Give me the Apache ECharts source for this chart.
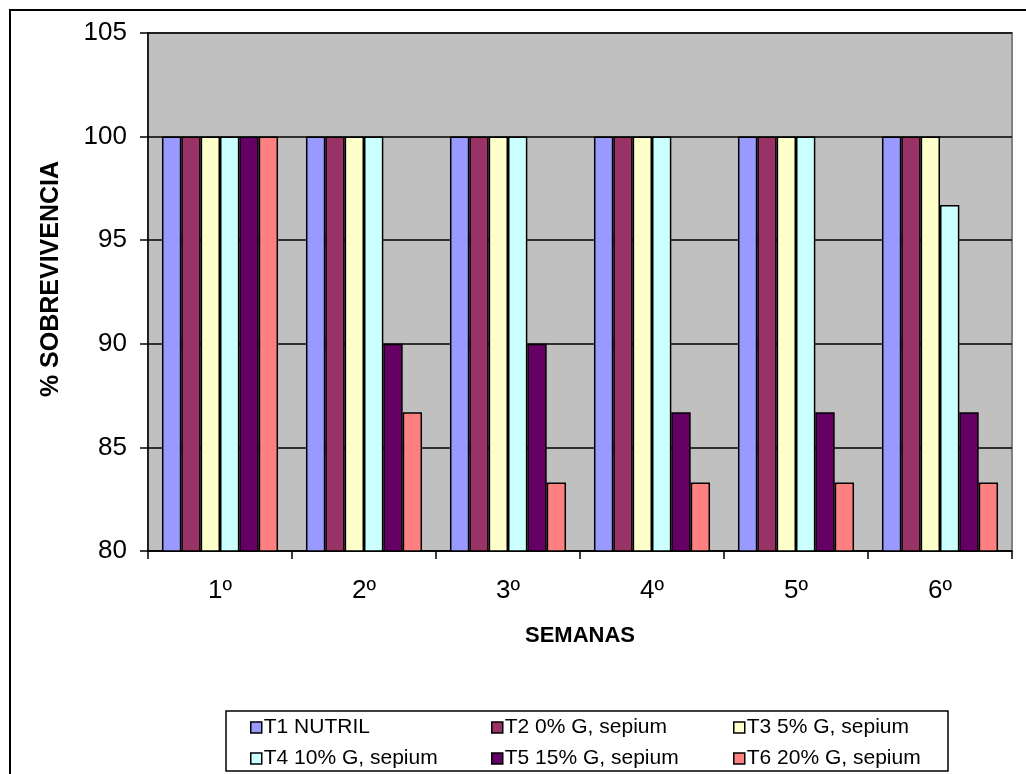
<!DOCTYPE html>
<html>
<head>
<meta charset="utf-8">
<script src="https://cdn.jsdelivr.net/npm/echarts@6/dist/echarts.min.js"></script>
<style>
  html, body { margin: 0; padding: 0; background: #ffffff; }
  #chart { width: 1026px; height: 774px; }
</style>
</head>
<body>
<div id="chart"></div>
<script>
// Weeks on the category axis
const semanas = ['1º', '2º', '3º', '4º', '5º', '6º'];

// Treatment names (legend)
const tratamientos = [
  'T1 NUTRIL',
  'T2 0% G, sepium',
  'T3 5% G, sepium',
  'T4 10% G, sepium',
  'T5 15% G, sepium',
  'T6 20% G, sepium'
];

// Survival (%) per treatment, one value per week
const t1 = [100, 100, 100, 100, 100, 100];
const t2 = [100, 100, 100, 100, 100, 100];
const t3 = [100, 100, 100, 100, 100, 100];
const t4 = [100, 100, 100, 100, 100, 96.7];
const t5 = [100, 90, 90, 86.7, 86.7, 86.7];
const t6 = [100, 86.7, 83.3, 83.3, 83.3, 83.3];

// Y axis range
const yMin = 80;
const yMax = 105;
const yStep = 5;

const colores = ['#9999FF', '#993366', '#FFFFCC', '#CCFFFF', '#660066', '#FF8080'];
const valores = [t1, t2, t3, t4, t5, t6];

const FONT = 'Arial, "Liberation Sans", sans-serif';

const chart = echarts.init(document.getElementById('chart'));

const series = tratamientos.map((name, i) => ({
  name: name,
  type: 'bar',
  data: valores[i],
  barGap: '0%',
  barCategoryGap: '19.4%',
  itemStyle: { color: colores[i], borderColor: '#000000', borderWidth: 1.5 },
  emphasis: { disabled: true }
}));

// Legend: three columns of two entries each
const legendBase = {
  orient: 'vertical',
  top: 717,
  padding: 0,
  itemWidth: 11,
  itemHeight: 11,
  itemGap: 10,
  icon: 'rect',
  selectedMode: false,
  textStyle: { fontFamily: FONT, fontSize: 21, color: '#000000', lineHeight: 20, padding: [0, 0, 0, -3] },
  itemStyle: { borderColor: '#000000', borderWidth: 1.5 }
};

chart.setOption({
  animation: false,
  backgroundColor: '#ffffff',
  color: colores,
  grid: {
    left: 148, top: 33, width: 864, height: 518,
    show: true,
    backgroundColor: '#C0C0C0',
    borderColor: '#808080',
    borderWidth: 2
  },
  legend: [
    Object.assign({}, legendBase, { left: 250, data: [tratamientos[0], tratamientos[3]] }),
    Object.assign({}, legendBase, { left: 491, data: [tratamientos[1], tratamientos[4]] }),
    Object.assign({}, legendBase, { left: 733, data: [tratamientos[2], tratamientos[5]] })
  ],
  xAxis: {
    type: 'category',
    data: semanas,
    axisLine: { show: true, lineStyle: { color: '#000000', width: 1.5 } },
    axisTick: { show: true, length: 8, inside: false, lineStyle: { color: '#000000', width: 1.5 } },
    axisLabel: { fontFamily: FONT, fontSize: 26, color: '#000000', margin: 27 },
    splitLine: { show: false }
  },
  yAxis: {
    type: 'value',
    min: yMin,
    max: yMax,
    interval: yStep,
    axisLine: { show: true, lineStyle: { color: '#000000', width: 1.5 } },
    axisTick: { show: true, length: 8, inside: false, lineStyle: { color: '#000000', width: 1.5 } },
    axisLabel: { fontFamily: FONT, fontSize: 26, color: '#000000', margin: 21, padding: [5, 0, 0, 0] },
    splitLine: { show: true, lineStyle: { color: '#000000', width: 1.5 } }
  },
  series: series,
  graphic: [
    {
      type: 'rect', silent: true, z: -1,
      shape: { x: 10, y: 10, width: 1040, height: 800 },
      style: { fill: 'none', stroke: '#000000', lineWidth: 2 }
    },
    {
      type: 'rect', silent: true,
      shape: { x: 226, y: 711, width: 722, height: 60 },
      style: { fill: '#ffffff', stroke: '#000000', lineWidth: 1.5 },
      z: 0
    },
    {
      type: 'text', silent: true,
      x: 51, y: 279, rotation: Math.PI / 2,
      style: { text: '% SOBREVIVENCIA', fontFamily: FONT, fontSize: 25, fontWeight: 'bold', fill: '#000000', align: 'center', verticalAlign: 'middle' }
    },
    {
      type: 'text', silent: true,
      x: 580, y: 636,
      style: { text: 'SEMANAS', fontFamily: FONT, fontSize: 22, fontWeight: 'bold', fill: '#000000', align: 'center', verticalAlign: 'middle' }
    }
  ]
});
</script>
</body>
</html>
